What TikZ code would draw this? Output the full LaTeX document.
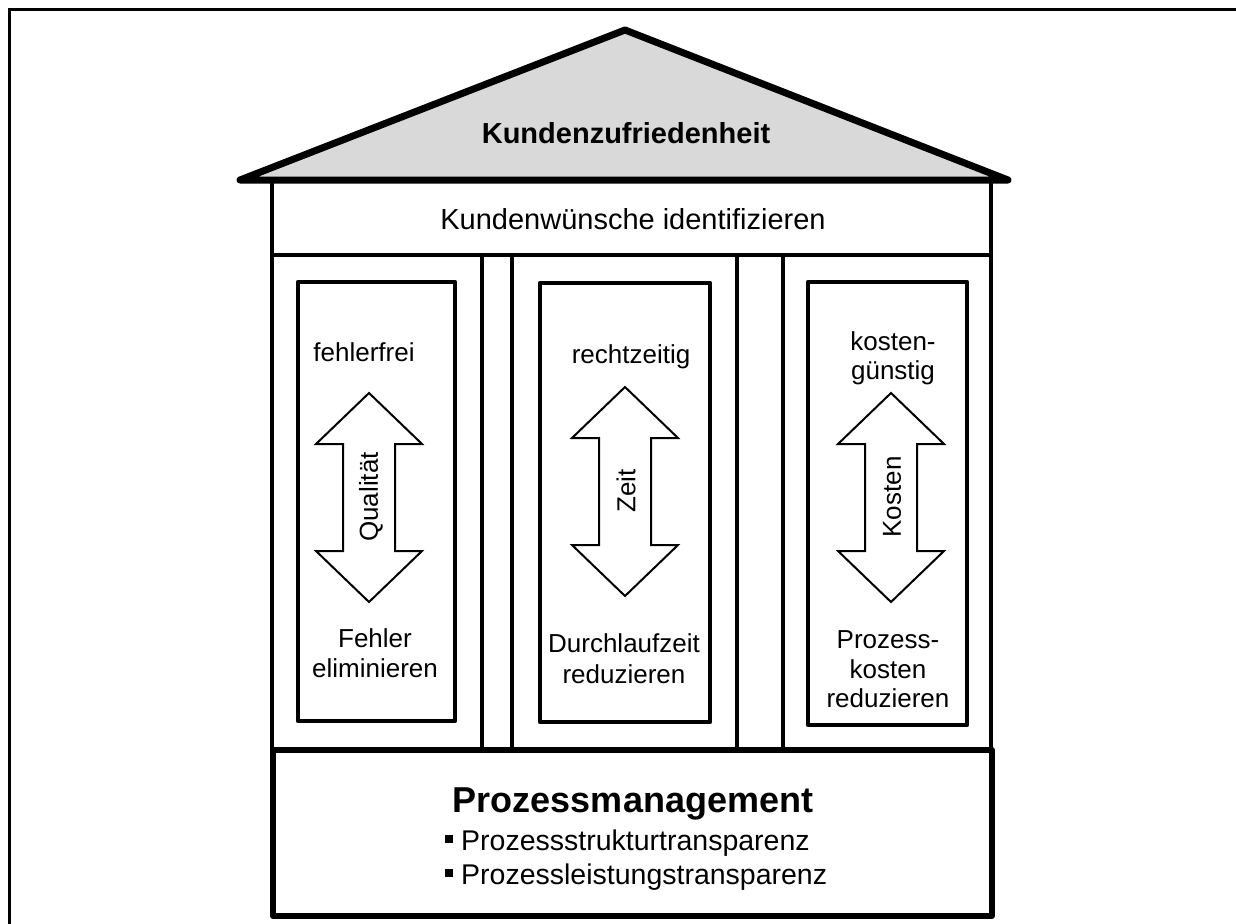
\documentclass[tikz,border=0pt]{standalone}
\usepackage{fontspec}
\setmainfont{Liberation Sans}
\definecolor{roofgray}{HTML}{D9D9D9}
\begin{document}
\begin{tikzpicture}[x=1pt,y=-1pt,
  frameline/.style={line width=3pt},
  wall/.style={line width=4.5pt},
  heavy/.style={line width=7pt, line join=round, line cap=round},
  basebox/.style={line width=6pt, line join=round},
  pillarbox/.style={line width=4.5pt, line join=round},
  updown/.style={line width=2pt, line join=miter, fill=white},
  lbl/.style={inner sep=0pt, anchor=base, font=\fontsize{26}{30}\selectfont},
  rot/.style={inner sep=0pt, anchor=center, rotate=90, font=\fontsize{26}{30}\selectfont},
  item/.style={inner sep=0pt, anchor=base west, font=\fontsize{28.5}{32}\selectfont}]
\useasboundingbox (0,0) rectangle (1236,923);

% outer frame (runs past the page on the right and at the bottom)
\draw[frameline] (9,940) -- (9,10) -- (1250,10);

% house body: band, side walls and pillar dividers
\coordinate (bandNW) at (272,180);
\coordinate (bandSE) at (991,255);
\draw[wall] (bandNW) rectangle (bandSE);
\draw[wall] (272,255) -- (272,750);
\draw[wall] (991,255) -- (991,750);
\foreach \x in {482,512,737,783}
  \draw[wall] (\x,255) -- (\x,750);

% foundation
\coordinate (baseNW) at (273,750);
\coordinate (baseSE) at (992,916);
\draw[basebox] (baseNW) rectangle (baseSE);

% roof
\coordinate (eaveL) at (240,180);
\coordinate (apex) at (625,30);
\coordinate (eaveR) at (1008,180);
\draw[heavy, fill=roofgray] (eaveL) -- (apex) -- (eaveR) -- cycle;

% pillar frames
\draw[pillarbox] (298,282) rectangle (455,721);
\draw[pillarbox] (540,283) rectangle (710,722);
\draw[pillarbox] (808,282) rectangle (967,725);

% double arrows
\foreach \cx/\ty in {369/393, 625/387, 891/393}
  \draw[updown] (\cx,\ty) -- ++(53,51) -- ++(-27,0) -- ++(0,107) -- ++(27,0)
    -- ++(-53,51) -- ++(-53,-51) -- ++(27,0) -- ++(0,-107) -- ++(-27,0) -- cycle;

% texts
\node[inner sep=0pt, anchor=base, font=\fontsize{29}{32}\selectfont\bfseries] (kz) at (626,143) {Kundenzufriedenheit};
\node[inner sep=0pt, anchor=base, font=\fontsize{29}{32}\selectfont] (kw) at (633,229) {Kundenwünsche identifizieren};

\node[lbl] (q1) at (364,361) {fehlerfrei};
\node[lbl] (q2) at (375,647) {Fehler};
\node[lbl] (q3) at (375,677) {eliminieren};
\node[rot] (qa) at (371,497) {Qualität};

\node[lbl] (z1) at (631,363) {rechtzeitig};
\node[lbl] (z2) at (624,652) {Durchlaufzeit};
\node[lbl] (z3) at (624,683) {reduzieren};
\node[rot] (za) at (626,491) {Zeit};

\node[lbl] (k1) at (893,350) {kosten-};
\node[lbl] (k2) at (893,379) {günstig};
\node[lbl] (k3) at (888,648) {Prozess-};
\node[lbl] (k4) at (888,678) {kosten};
\node[lbl] (k5) at (888,707) {reduzieren};
\node[rot] (ka) at (892,497) {Kosten};

\node[inner sep=0pt, anchor=base, font=\fontsize{36}{40}\selectfont\bfseries] (pm) at (633,812) {Prozessmanagement};
\node[item] (i1) at (445,850) {\rule[7pt]{8pt}{8pt}\hspace{8pt}Prozessstrukturtransparenz};
\node[item] (i2) at (445,884) {\rule[7pt]{8pt}{8pt}\hspace{8pt}Prozessleistungstransparenz};
\end{tikzpicture}
\end{document}
